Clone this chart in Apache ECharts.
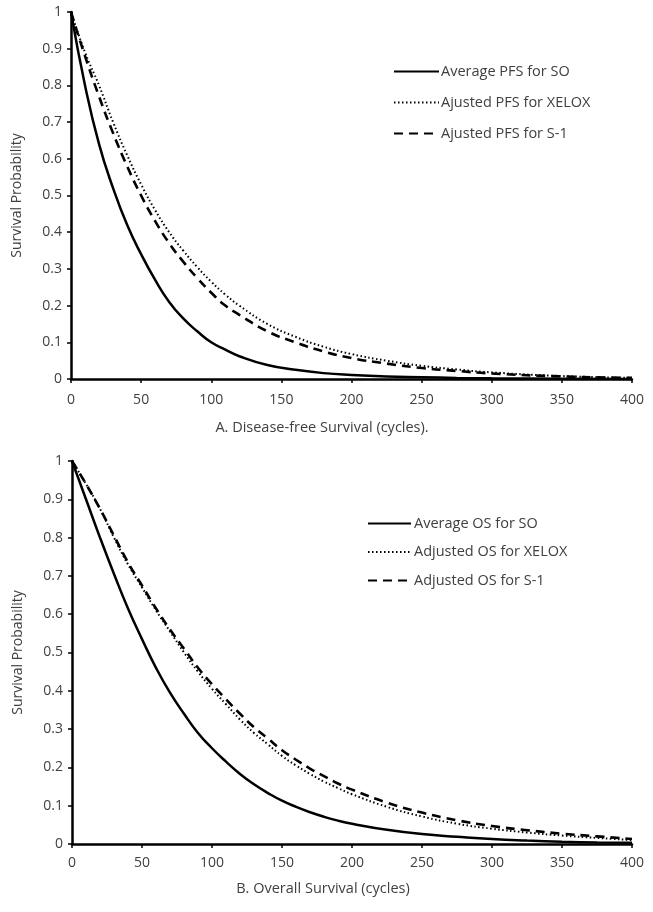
<!DOCTYPE html>
<html>
<head>
<meta charset="utf-8">
<script src="https://cdn.jsdelivr.net/npm/echarts@6/dist/echarts.min.js"></script>
<style>
html,body{margin:0;padding:0;background:#fff;}
#c{width:653px;height:912px;}
</style>
</head>
<body>
<div id="c"></div>
<script>
// Top chart: Disease-free survival (PFS)
const tTop      = [0, 10, 20, 30, 40, 50, 60, 70, 80, 90, 100, 110, 120, 140, 160, 180, 200, 225, 250, 275, 300, 350, 400];
const soPFS     = [1, 0.80, 0.64, 0.52, 0.42, 0.34, 0.27, 0.21, 0.165, 0.13, 0.10, 0.08, 0.062, 0.038, 0.025, 0.016, 0.011, 0.007, 0.005, 0.003, 0.002, 0.001, 0];
const xeloxPFS  = [1, 0.89, 0.80, 0.70, 0.61, 0.53, 0.46, 0.40, 0.35, 0.305, 0.265, 0.23, 0.20, 0.15, 0.115, 0.088, 0.068, 0.05, 0.036, 0.026, 0.018, 0.008, 0.003];
const s1PFS     = [1, 0.88, 0.77, 0.67, 0.58, 0.50, 0.43, 0.37, 0.32, 0.275, 0.235, 0.20, 0.175, 0.13, 0.10, 0.075, 0.057, 0.042, 0.03, 0.022, 0.015, 0.007, 0.003];

// Bottom chart: Overall survival (OS)
const tBot      = [0, 10, 20, 30, 40, 50, 60, 70, 80, 90, 100, 110, 120, 130, 140, 150, 160, 170, 180, 190, 200, 225, 250, 275, 300, 325, 350, 375, 400];
const soOS      = [1, 0.90, 0.80, 0.705, 0.615, 0.535, 0.46, 0.395, 0.34, 0.29, 0.25, 0.215, 0.183, 0.156, 0.133, 0.113, 0.097, 0.083, 0.071, 0.061, 0.053, 0.037, 0.026, 0.019, 0.013, 0.009, 0.006, 0.004, 0.003];
const xeloxOS   = [1, 0.94, 0.875, 0.80, 0.73, 0.67, 0.61, 0.555, 0.50, 0.45, 0.405, 0.365, 0.325, 0.29, 0.26, 0.23, 0.205, 0.183, 0.163, 0.146, 0.13, 0.097, 0.072, 0.053, 0.04, 0.03, 0.022, 0.016, 0.01];
const s1OS      = [1, 0.94, 0.875, 0.805, 0.735, 0.675, 0.615, 0.56, 0.51, 0.46, 0.417, 0.378, 0.34, 0.305, 0.275, 0.245, 0.22, 0.197, 0.177, 0.158, 0.142, 0.108, 0.082, 0.062, 0.047, 0.036, 0.027, 0.02, 0.013];

const namesTop = ['Average PFS for SO', 'Ajusted PFS for XELOX', 'Ajusted PFS for S-1'];
const namesBot = ['Average OS for SO', 'Adjusted OS for XELOX', 'Adjusted OS for S-1'];
const xTitleTop = 'A. Disease-free Survival (cycles).';
const xTitleBot = 'B. Overall Survival (cycles)';
const yTitle = 'Survival Probability';

const FONT = 'Open Sans';
const TXT = '#404040';

function pairs(t, v){ return t.map((x,i)=>[x, v[i]]); }

const styles = [
  {type:'solid', width:2.5},
  {type:[1.5,2.5], width:2},
  {type:[9,6], width:2.6}
];

function xAxisCfg(gi, margin){
  return {
    type:'value', gridIndex:gi, min:0, max:400, interval:50,
    axisLine:{show:true, lineStyle:{color:'#000', width:2.5}},
    axisTick:{show:true, inside:false, length:4, lineStyle:{color:'#000', width:1.5}},
    axisLabel:{color:TXT, fontFamily:FONT, fontSize:14, margin:margin},
    splitLine:{show:false}
  };
}
function yAxisCfg(gi){
  return {
    type:'value', gridIndex:gi, min:0, max:1, interval:0.1,
    name:yTitle, nameLocation:'middle', nameGap:47,
    nameTextStyle:{color:TXT, fontFamily:FONT, fontSize:14},
    axisLine:{show:true, lineStyle:{color:'#000', width:2.5}},
    axisTick:{show:true, inside:false, length:4, lineStyle:{color:'#000', width:1.5}},
    axisLabel:{color:TXT, fontFamily:FONT, fontSize:14, margin:9,
      formatter:v=>String(Math.round(v*10)/10)},
    splitLine:{show:false}
  };
}

const series = [];
[soPFS, xeloxPFS, s1PFS].forEach((v,i)=>{
  series.push({name:namesTop[i], type:'line', xAxisIndex:0, yAxisIndex:0,
    data:pairs(tTop, v), symbol:'none', smooth:0.5,
    itemStyle:{color:'#000'},
    lineStyle:{color:'#000', width:styles[i].width, type:styles[i].type}, silent:true});
});
[soOS, xeloxOS, s1OS].forEach((v,i)=>{
  series.push({name:namesBot[i], type:'line', xAxisIndex:1, yAxisIndex:1,
    data:pairs(tBot, v), symbol:'none', smooth:0.5,
    itemStyle:{color:'#000'},
    lineStyle:{color:'#000', width:styles[i].width, type:styles[i].type}, silent:true});
});

const chart = echarts.init(document.getElementById('c'), null, {renderer:'canvas'});
chart.setOption({
  animation:false,
  backgroundColor:'#fff',
  grid:[
    {left:71, top:12, right:21, height:367},
    {left:72, top:461, right:21, height:383}
  ],
  xAxis:[xAxisCfg(0,14), xAxisCfg(1,12)],
  yAxis:[yAxisCfg(0), yAxisCfg(1)],
  legend:[
    {data:namesTop, orient:'vertical', left:393, top:64, padding:0, itemWidth:45, itemHeight:14, itemGap:16,
     itemStyle:{opacity:0},
     textStyle:{color:TXT, fontFamily:FONT, fontSize:14.5, padding:[0,0,0,-3]}, selectedMode:false},
    {data:namesBot, orient:'vertical', left:367, top:516, padding:0, itemWidth:43, itemHeight:14, itemGap:13.5,
     itemStyle:{opacity:0},
     textStyle:{color:TXT, fontFamily:FONT, fontSize:14.5, padding:[0,0,0,-2]}, selectedMode:false}
  ],
  graphic:[
    {type:'text', x:322, y:428, style:{text:xTitleTop, fill:TXT, font:'14.5px "Open Sans"', align:'center', verticalAlign:'middle'}},
    {type:'text', x:323, y:889, style:{text:xTitleBot, fill:TXT, font:'14.5px "Open Sans"', align:'center', verticalAlign:'middle'}}
  ],
  series:series
});
</script>
</body>
</html>
